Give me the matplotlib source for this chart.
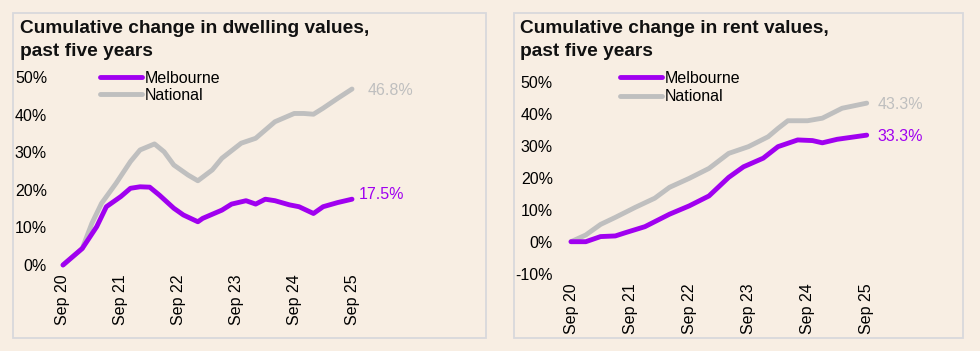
import matplotlib
matplotlib.use("Agg")
import matplotlib.pyplot as plt
from matplotlib.patches import Rectangle

plt.rcParams['font.family'] = ['Liberation Sans', 'DejaVu Sans']

# months since Sep 2020 and cumulative change (%)
dw_nat_m = [0, 4, 6, 8, 11, 14, 16, 19, 21, 23, 26, 28, 31, 33, 37, 40, 44, 48, 50, 52, 54, 57, 60]
dw_nat = [0, 4.4, 11.1, 16.4, 21.7, 27.5, 30.6, 32.2, 30.1, 26.6, 23.9, 22.4, 25.3, 28.4, 32.4, 33.7, 38.1, 40.3, 40.3, 40.1, 41.7, 44.3, 46.8]
dw_mel_m = [0, 4, 7, 9, 12, 14, 16, 18, 20, 23, 25, 28, 29, 33, 35, 38, 40, 42, 44, 47, 49, 52, 54, 57, 60]
dw_mel = [0, 4.4, 10.2, 15.5, 18.2, 20.4, 20.8, 20.7, 18.6, 15.1, 13.3, 11.5, 12.4, 14.6, 16.2, 17.1, 16.2, 17.5, 17.1, 16.0, 15.5, 13.7, 15.5, 16.6, 17.5]

rn_nat_m = [0, 3, 6, 9, 13, 17, 20, 24, 28, 32, 36, 40, 42, 44, 48, 51, 55, 60]
rn_nat = [0, 2.1, 5.4, 7.6, 10.7, 13.6, 17.0, 19.8, 22.9, 27.6, 29.7, 32.8, 35.4, 37.8, 37.8, 38.6, 41.7, 43.3]
rn_mel_m = [0, 3, 6, 9, 11, 15, 20, 24, 28, 32, 35, 39, 42, 46, 49, 51, 54, 60]
rn_mel = [0, 0, 1.6, 1.8, 2.8, 4.7, 8.6, 11.2, 14.3, 20.1, 23.4, 26.1, 29.7, 31.8, 31.6, 30.9, 32.0, 33.3]

tick_months = [0, 12, 24, 36, 48, 60]
tick_labels = ["Sep 20", "Sep 21", "Sep 22", "Sep 23", "Sep 24", "Sep 25"]

PURPLE = "#A000F0"
GREY = "#BFBFBF"
BG = "#F8EEE3"

W, H = 980, 351
def fx(p): return p / W
def fy(p): return 1 - p / H

fig = plt.figure(figsize=(9.8, 3.51), dpi=100, facecolor=BG)

# panel frames
for x0, x1 in [(12.5, 485.5), (513.5, 962.5)]:
    fig.add_artist(Rectangle((fx(x0), fy(337.5)), fx(x1) - fx(x0), fy(12.5) - fy(337.5),
                             transform=fig.transFigure, fill=False, ec="#D8D8DC", lw=1.3))


def panel(rect, title, x_title, mel_m, mel, nat_m, nat, ylim, yticks, ypad,
          leg_xy, leg_sp, lab_nat, lab_mel):
    ax = fig.add_axes(rect)
    ax.set_facecolor("none")
    ax.plot(mel_m, mel, color=PURPLE, lw=3.5, solid_capstyle="round", solid_joinstyle="round",
            clip_on=False, label="Melbourne", zorder=3)
    ax.plot(nat_m, nat, color=GREY, lw=3.5, solid_capstyle="round", solid_joinstyle="round",
            clip_on=False, label="National", zorder=2)
    ax.set_xlim(0, 60)
    ax.set_ylim(*ylim)
    ax.set_yticks(yticks)
    ax.set_yticklabels([f"{v}%" for v in yticks])
    ax.set_xticks(tick_months)
    ax.set_xticklabels(tick_labels, rotation=90)
    ax.tick_params(axis="y", length=0, pad=ypad, labelsize=11.5)
    ax.tick_params(axis="x", length=0, pad=7, labelsize=11.5)
    for s in ax.spines.values():
        s.set_visible(False)
    fig.text(fx(x_title), fy(33.3), title[0], fontsize=13.8, fontweight="bold", color="#111111")
    fig.text(fx(x_title), fy(56), title[1], fontsize=13.8, fontweight="bold", color="#111111")
    ax.legend(loc="upper left", bbox_to_anchor=(fx(leg_xy[0]), fy(leg_xy[1])),
              bbox_transform=fig.transFigure, frameon=False, fontsize=11.5,
              handlelength=2.6, handletextpad=0.2, labelspacing=leg_sp,
              borderpad=0, borderaxespad=0)
    ax.annotate(f"{nat[-1]}%", (nat_m[-1], nat[-1]), xytext=(lab_nat[0], lab_nat[1]),
                textcoords="offset pixels", color=GREY, fontsize=11.5, va="center")
    ax.annotate(f"{mel[-1]}%", (mel_m[-1], mel[-1]), xytext=(lab_mel[0], lab_mel[1]),
                textcoords="offset pixels", color=PURPLE, fontsize=11.5, va="center")
    return ax


panel([fx(63), fy(265), fx(352) - fx(63), fy(77) - fy(265)],
      ["Cumulative change in dwelling values,", "past five years"], 19.5,
      dw_mel_m, dw_mel, dw_nat_m, dw_nat, (0, 50), [0, 10, 20, 30, 40, 50], 11.5,
      (100, 71), 0.1, (16, -1), (7, 5))

panel([fx(571), fy(273.7), fx(866.7) - fx(571), fy(81.7) - fy(273.7)],
      ["Cumulative change in rent values,", "past five years"], 520.5,
      rn_mel_m, rn_mel, rn_nat_m, rn_nat, (-10, 50), [-10, 0, 10, 20, 30, 40, 50], 13,
      (620, 71), 0.2, (11, -1), (11, -1))

fig.savefig("out.png", dpi=100, facecolor=BG)
